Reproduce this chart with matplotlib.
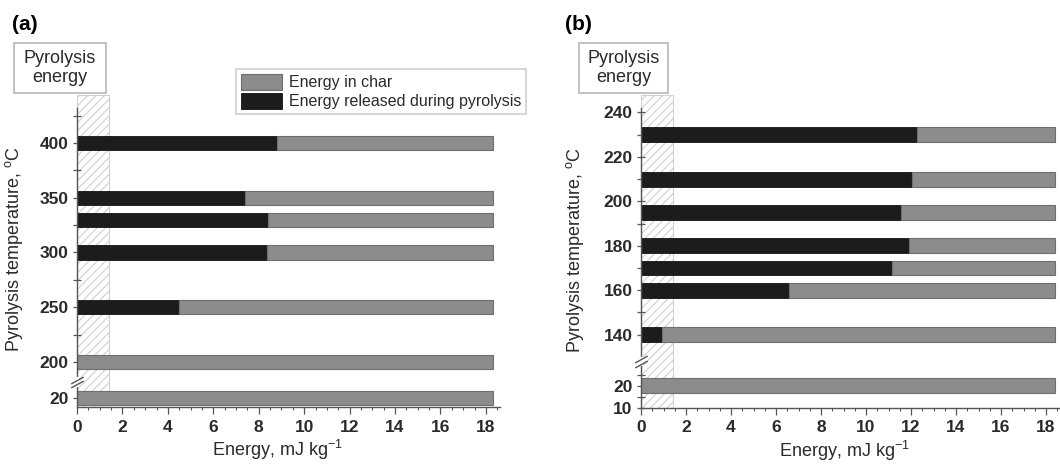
import numpy as np
import matplotlib
matplotlib.use("Agg")
import matplotlib.pyplot as plt
from matplotlib.patches import Rectangle

plt.rcParams['font.family'] = ['Liberation Sans', 'DejaVu Sans']
plt.rcParams['mathtext.fontset'] = 'custom'
plt.rcParams['mathtext.rm'] = 'Liberation Sans'
plt.rcParams['hatch.linewidth'] = 0.8
plt.rcParams['hatch.color'] = '#c8c8c8'

# panel (a): pyrolysis temperature, degC, and energies in mJ/kg
temps_a = [20, 200, 250, 300, 330, 350, 400]
released_a = [0.0, 0.0, 4.47, 8.35, 8.42, 7.40, 8.82]
total_a = [18.3, 18.3, 18.3, 18.3, 18.3, 18.3, 18.3]
yticks_a = [20, 200, 250, 300, 350, 400]
yminor_a = [225, 275, 325, 375, 425]

# panel (b)
temps_b = [20, 140, 160, 170, 180, 195, 210, 230]
released_b = [0.0, 0.93, 6.58, 11.16, 11.91, 11.56, 12.06, 12.28]
total_b = [18.4, 18.4, 18.4, 18.4, 18.4, 18.4, 18.4, 18.4]
yticks_b = [10, 20, 140, 160, 180, 200, 220, 240]
yminor_b = [15, 25, 150, 170, 190, 210, 230]

pyro_energy = 1.4   # width of the hatched "pyrolysis energy" strip
xticks = list(range(0, 19, 2))

GREY = '#8c8c8c'
BLACK = '#1c1c1c'
TXT = '#2a2a2a'


def to_axis(t, shift):
    # broken y axis: low temperatures are moved up next to the main range
    t = np.asarray(t, dtype=float)
    return np.where(t >= 100, t, t + shift)


def draw_panel(ax, temps, released, total, shift, bar_h, yticks, yminor,
               ylim, hatch_top, ybreak):
    pos = to_axis(temps, shift)
    rel = np.array(released)
    char = np.array(total) - rel

    ax.add_patch(Rectangle((0, ylim[0]), pyro_energy, hatch_top - ylim[0],
                           facecolor='white', edgecolor='#d0d0d0', hatch='////',
                           lw=0.8, zorder=0.5, clip_on=False))
    ax.barh(pos, rel, height=bar_h, color=BLACK, edgecolor='#111111', lw=0.6, zorder=2)
    ax.barh(pos, char, left=rel, height=bar_h, color=GREY, edgecolor='#6e6e6e',
            lw=0.8, zorder=2)

    ax.set_ylim(*ylim)
    ax.set_xlim(0, 18.62)
    ax.set_yticks(to_axis(yticks, shift), [str(v) for v in yticks],
                  fontweight='bold', fontsize=12.5, color=TXT)
    ax.set_yticks(to_axis(yminor, shift), minor=True)
    ax.set_xticks(xticks, [str(v) for v in xticks], fontweight='bold',
                  fontsize=12.5, color=TXT)
    ax.set_xticks(np.arange(0, 18.6, 0.5), minor=True)
    ax.tick_params(axis='y', which='both', direction='inout', length=6,
                   width=0.9, color='#555555', pad=3)
    ax.tick_params(axis='x', which='major', direction='out', length=5,
                   width=0.9, color='#555555', pad=4)
    ax.tick_params(axis='x', which='minor', direction='out', length=2.5,
                   width=0.8, color='#555555')
    for side in ('top', 'right'):
        ax.spines[side].set_visible(False)
    for side in ('left', 'bottom'):
        ax.spines[side].set_color('#555555')
        ax.spines[side].set_linewidth(1.0)

    # break marks on the y axis
    ax.plot([0, 0], [ybreak - 2.5 * bar_h / 13, ybreak + 2.5 * bar_h / 13],
            color='white', lw=3, clip_on=False, zorder=5)
    ax.plot([0, 0], [ybreak - 2.0 * bar_h / 13, ybreak + 2.0 * bar_h / 13],
            ls='none', marker=[(-1, -0.55), (1, 0.55)], markersize=9,
            mec='#555555', mew=1.0, clip_on=False, zorder=6)

    ax.set_xlabel('Energy, mJ kg$^{-1}$', fontsize=13, color=TXT)
    ax.set_ylabel('Pyrolysis temperature, $^{\\mathrm{o}}$C', fontsize=13, color=TXT)


fig = plt.figure(figsize=(10.6, 4.66), dpi=100)
ax_a = fig.add_axes([77 / 1060, 59 / 466, 423 / 1060, 299 / 466])
ax_b = fig.add_axes([641 / 1060, 58 / 466, 419 / 1060, 300 / 466])

draw_panel(ax_a, temps_a, released_a, total_a, 147, 13, yticks_a, yminor_a,
           (158.8, 432), 443.6, 181.8)
draw_panel(ax_b, temps_b, released_b, total_b, 97, 6.7, yticks_b, yminor_b,
           (107, 242), 248, 127.9)

ax_a.xaxis.set_label_coords(0.475, -0.102)
ax_b.xaxis.set_label_coords(0.485, -0.102)
ax_a.yaxis.set_label_coords(-0.122, 0.528)
ax_b.yaxis.set_label_coords(-0.131, 0.527)

# "Pyrolysis energy" boxes above the hatched strips
for x0, x1 in ((14, 106), (579, 668)):
    fig.patches.append(Rectangle((x0 / 1060, 1 - 93 / 466), (x1 - x0) / 1060, 50 / 466,
                                 transform=fig.transFigure, facecolor='white',
                                 edgecolor='#bdbdbd', lw=1.3))
    fig.text((x0 + x1) / 2 / 1060, 1 - 68 / 466, 'Pyrolysis\nenergy', ha='center',
             va='center', fontsize=13, color=TXT, linespacing=1.1)

fig.text(12 / 1060, 1 - 25 / 466, '(a)', fontsize=15, fontweight='bold', va='center')
fig.text(565 / 1060, 1 - 25 / 466, '(b)', fontsize=15, fontweight='bold', va='center')

handles = [Rectangle((0, 0), 1, 1, facecolor=GREY, edgecolor='#6e6e6e', lw=0.8),
           Rectangle((0, 0), 1, 1, facecolor=BLACK, edgecolor='#111111', lw=0.6)]
leg = fig.legend(handles, ['Energy in char', 'Energy released during pyrolysis'],
                 loc='upper left', bbox_to_anchor=(236 / 1060, 1 - 69 / 466),
                 fontsize=11.5, frameon=True, fancybox=False, handlelength=2.6,
                 handleheight=1.2, handletextpad=0.4, labelspacing=0.15,
                 borderpad=0.3, borderaxespad=0)
leg.get_frame().set_edgecolor('#c4c4c4')
leg.get_frame().set_linewidth(1.2)
for t in leg.get_texts():
    t.set_color(TXT)

fig.savefig('out.png', dpi=100)
